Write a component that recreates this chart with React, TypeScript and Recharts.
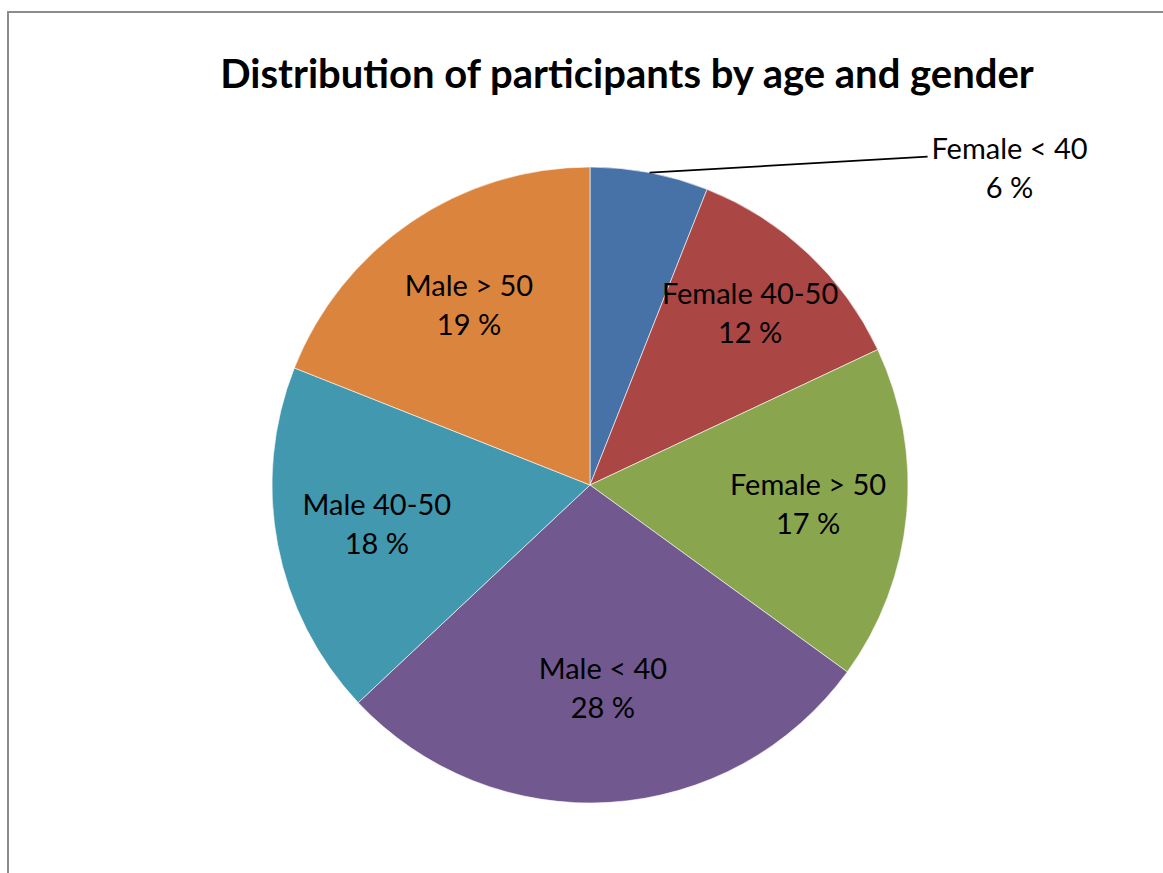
import { PieChart, Pie, Cell } from 'recharts'

const groups = ['Female < 40', 'Female 40-50', 'Female > 50', 'Male < 40', 'Male 40-50', 'Male > 50']
const shares = [6, 12, 17, 28, 18, 19]
const colors = ['#4672A8', '#AA4744', '#89A54E', '#71588F', '#4198AF', '#DB843D']

const data = groups.map((g, i) => ({ name: g, value: shares[i] }))

const FONT = 'Lato, "Open Sans", sans-serif'
const RAD = Math.PI / 180

const renderLabel = (p: any) => {
  const { cx, cy, midAngle, outerRadius, index, name, value } = p
  const cos = Math.cos(-midAngle * RAD)
  const sin = Math.sin(-midAngle * RAD)
  if (index === 0) {
    // small slice: label outside with a leader line
    const ex = cx + outerRadius * cos
    const ey = cy + outerRadius * sin
    const lx = ex + 278
    const ly = ey - 16
    return (
      <g>
        <line x1={ex} y1={ey} x2={lx} y2={ly} stroke="#000" strokeWidth={1.8} />
        <text x={lx + 82} y={ly} textAnchor="middle" fontFamily={FONT} fontSize={29} fill="#000">
          <tspan x={lx + 82} y={ly - 9} dominantBaseline="central">{name}</tspan>
          <tspan x={lx + 82} y={ly + 30} dominantBaseline="central">{value} %</tspan>
        </text>
      </g>
    )
  }
  // narrower slices push the label further out, like Excel's best fit
  const r = outerRadius * (0.577 + 1.9 / value)
  const x = cx + r * cos
  const y = cy + r * sin - 3
  return (
    <text x={x} y={y} textAnchor="middle" fontFamily={FONT} fontSize={29} fill="#000">
      <tspan x={x} y={y - 19.5} dominantBaseline="central">{name}</tspan>
      <tspan x={x} y={y + 19.5} dominantBaseline="central">{value} %</tspan>
    </text>
  )
}

export default function App() {
  return (
    <div style={{ position: 'absolute', left: 7, top: 11, width: 1154, height: 860, borderTop: '2px solid #8c8c8c', borderLeft: '2px solid #8c8c8c', background: '#fff', overflow: 'hidden' }}>
      <svg width={1154} height={120} style={{ position: 'absolute', left: 0, top: 0 }}>
        <text x={618} y={75} textAnchor="middle" fontFamily={FONT} fontWeight={700} fontSize={40} fill="#000">
          Distribution of participants by age and gender
        </text>
      </svg>
      <div style={{ position: 'absolute', left: 0, top: 0 }}>
        <PieChart width={1154} height={860} margin={{ top: 0, right: 0, bottom: 0, left: 0 }}>
          <Pie data={data} dataKey="value" nameKey="name" cx={581} cy={472} outerRadius={318}
            startAngle={90} endAngle={-270} stroke="#ffffff" strokeWidth={0.6}
            label={renderLabel} labelLine={false} isAnimationActive={false}>
            {data.map((d, i) => <Cell key={d.name} fill={colors[i]} />)}
          </Pie>
        </PieChart>
      </div>
    </div>
  )
}
